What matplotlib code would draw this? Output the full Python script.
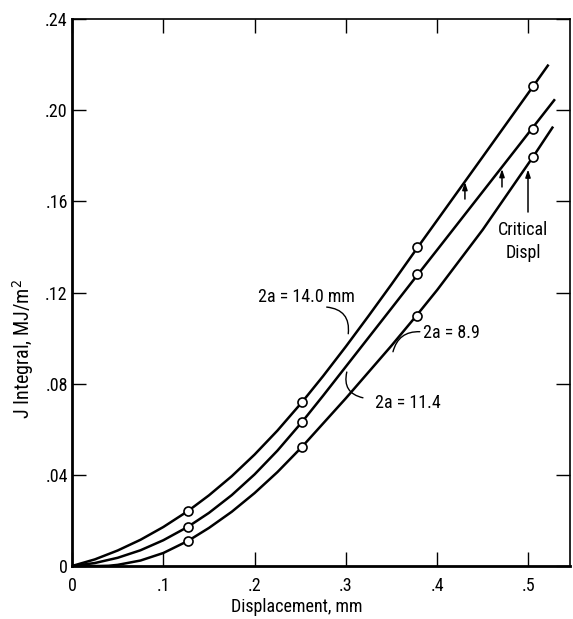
from matplotlib import pyplot as plt
from matplotlib import font_manager

# pick a narrow face if one is installed, else plain DejaVu
installed = {f.name for f in font_manager.fontManager.ttflist}
family = 'DejaVu Sans'
for name in ['Liberation Sans Narrow', 'Roboto Condensed', 'Open Sans Condensed']:
    if name in installed:
        family = name
        break
plt.rcParams['font.family'] = [family, 'DejaVu Sans']
plt.rcParams['font.stretch'] = 'condensed'

# curve points (displacement mm, J MJ/m^2)
x_top = [0, 0.025, 0.05, 0.075, 0.1, 0.127, 0.15, 0.175, 0.2, 0.225, 0.252,
         0.275, 0.3, 0.325, 0.35, 0.379, 0.4, 0.45, 0.505, 0.522]
j_top = [0, 0.0029, 0.0068, 0.0115, 0.0171, 0.0241, 0.0310, 0.0394, 0.0489, 0.0594, 0.0719,
         0.0833, 0.0963, 0.1098, 0.1236, 0.1400, 0.1517, 0.1796, 0.2104, 0.2200]

x_mid = [0, 0.025, 0.05, 0.075, 0.1, 0.127, 0.15, 0.175, 0.2, 0.225, 0.252,
         0.275, 0.3, 0.35, 0.379, 0.4, 0.45, 0.505, 0.529]
j_mid = [0, 0.0013, 0.0036, 0.0069, 0.0113, 0.0172, 0.0233, 0.0311, 0.0402, 0.0506, 0.0632,
         0.0747, 0.0875, 0.1131, 0.1280, 0.1387, 0.1643, 0.1925, 0.2048]

x_bot = [0, 0.03, 0.04, 0.05, 0.075, 0.1, 0.127, 0.15, 0.175, 0.2, 0.225, 0.252,
         0.3, 0.35, 0.377, 0.4, 0.45, 0.505, 0.527]
j_bot = [0, 0, 0.0001, 0.0005, 0.0024, 0.0057, 0.0110, 0.0167, 0.0238, 0.0320, 0.0412, 0.0523,
         0.0736, 0.0967, 0.1097, 0.1211, 0.1476, 0.1795, 0.1928]

# measured points
x_pts = [0.127, 0.252, 0.378, 0.505]
j_pts_top = [0.0241, 0.0719, 0.1400, 0.2104]
j_pts_mid = [0.0172, 0.0632, 0.1283, 0.1918]
j_pts_bot = [0.0110, 0.0523, 0.1097, 0.1795]

# critical displacement arrows: x, tail, head
crit_x = [0.4304, 0.471, 0.4995]
crit_tail = [0.161, 0.1663, 0.1553]
crit_head = [0.1685, 0.1742, 0.1740]

x_ticks = [0, 0.1, 0.2, 0.3, 0.4, 0.5]
x_labels = ['0', '.1', '.2', '.3', '.4', '.5']
y_ticks = [0, 0.04, 0.08, 0.12, 0.16, 0.20, 0.24]
y_labels = ['0', '.04', '.08', '.12', '.16', '.20', '.24']


def main():
    fig = plt.figure(figsize=(5.73, 6.19), dpi=100)
    ax = fig.add_axes([72 / 573, 53 / 619, 498 / 573, 547 / 619])

    for xs, js in ((x_top, j_top), (x_mid, j_mid), (x_bot, j_bot)):
        ax.plot(xs, js, color='black', lw=1.8, solid_capstyle='butt', solid_joinstyle='round')
    for js in (j_pts_top, j_pts_mid, j_pts_bot):
        ax.plot(x_pts, js, 'o', ms=6.5, mfc='white', mec='black', mew=1.2, zorder=3)

    for i in range(len(crit_x)):
        ax.annotate('', xy=(crit_x[i], crit_head[i]), xytext=(crit_x[i], crit_tail[i]),
                    arrowprops=dict(arrowstyle='-|>,head_length=0.45,head_width=0.15',
                                    color='black', lw=1.1, shrinkA=0, shrinkB=0))

    fs = 13
    ax.text(0.2037, 0.118, '2a = 14.0 mm', fontsize=fs, va='center')
    ax.text(0.3845, 0.1022, '2a = 8.9', fontsize=fs, va='center')
    ax.text(0.332, 0.0715, '2a = 11.4', fontsize=fs, va='center')
    ax.text(0.494, 0.1422, 'Critical\nDispl', fontsize=fs, ha='center', va='center',
            linespacing=1.35)

    lead = dict(arrowstyle='-', color='black', lw=1.0, shrinkA=0, shrinkB=0)
    ax.annotate('', xy=(0.3026, 0.1019), xytext=(0.279, 0.1136),
                arrowprops=dict(lead, connectionstyle='arc3,rad=-0.5'))
    ax.annotate('', xy=(0.301, 0.0851), xytext=(0.3187, 0.0738),
                arrowprops=dict(lead, connectionstyle='arc3,rad=-0.5'))
    ax.annotate('', xy=(0.3516, 0.094), xytext=(0.381, 0.1028),
                arrowprops=dict(lead, connectionstyle='arc3,rad=0.4'))

    ax.set_xlim(0, 0.5455)
    ax.set_ylim(0, 0.24)
    ax.set_xticks(x_ticks)
    ax.set_xticklabels(x_labels)
    ax.set_yticks(y_ticks)
    ax.set_yticklabels(y_labels)
    ax.tick_params(direction='in', length=10, width=1.0, top=True, right=True,
                   labelsize=13)
    ax.tick_params(axis='x', pad=8)
    ax.tick_params(axis='y', pad=3)
    for side in ('top', 'right'):
        ax.spines[side].set_linewidth(1.2)
    for side in ('left', 'bottom'):
        ax.spines[side].set_linewidth(2.0)

    ax.set_xlabel('Displacement, mm', fontsize=13)
    ax.xaxis.set_label_coords(0.452, -0.058)
    ax.set_ylabel('J Integral, MJ/m$^2$', fontsize=14.5)
    ax.yaxis.set_label_coords(-0.072, 0.397)

    fig.savefig('out.png', dpi=100)


main()
